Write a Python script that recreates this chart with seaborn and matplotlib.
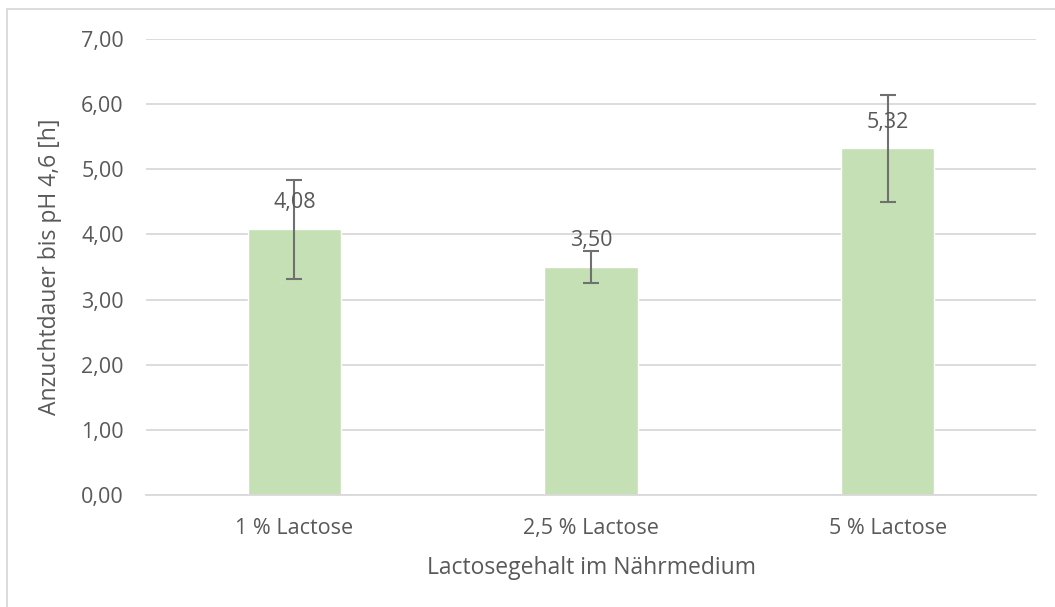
import matplotlib
matplotlib.use("Agg")
import matplotlib.pyplot as plt
from matplotlib.ticker import FuncFormatter, MultipleLocator
from matplotlib.lines import Line2D
import pandas as pd
import seaborn as sns

# values
gruppen = ['1 % Lactose', '2,5 % Lactose', '5 % Lactose']
dauer = [4.08, 3.50, 5.32]
fehler = [0.76, 0.25, 0.82]

df = pd.DataFrame({'Gruppe': gruppen, 'Dauer': dauer, 'Fehler': fehler})

sns.set_theme(style='whitegrid')
plt.rcParams['font.family'] = ['Open Sans', 'DejaVu Sans']
grau = '#595959'

fig = plt.figure(figsize=(10.55, 6.07), dpi=100)
ax = fig.add_axes([0.1384, 0.1845, 0.8436, 0.7512])

sns.barplot(data=df, x='Gruppe', y='Dauer', color='#C5E0B4', width=0.314,
            errorbar=None, saturation=1, ax=ax)
ax.errorbar(range(len(gruppen)), df['Dauer'], yerr=df['Fehler'], fmt='none',
            ecolor='#707070', elinewidth=1.5, capsize=6, capthick=1.5, zorder=3)

# data labels with decimal comma
for i, v in enumerate(dauer):
    ax.annotate(f'{v:.2f}'.replace('.', ','), (i, v), xytext=(0, 19),
                textcoords='offset points', ha='center', va='center',
                fontsize=15.5, color=grau, zorder=4)

ax.set_ylim(0, 7)
ax.set_xlim(-0.5, 2.5)
ax.yaxis.set_major_locator(MultipleLocator(1))
ax.yaxis.set_major_formatter(FuncFormatter(lambda y, p: f'{y:.2f}'.replace('.', ',')))
ax.grid(axis='y', color='#d9d9d9', linewidth=1.3)
ax.grid(axis='x', visible=False)
ax.set_axisbelow(True)
for s in ['left', 'right', 'top']:
    ax.spines[s].set_visible(False)
ax.spines['bottom'].set_color('#d9d9d9')
ax.spines['bottom'].set_linewidth(1.3)

ax.tick_params(axis='y', length=0, pad=16, labelsize=15.5, labelcolor=grau)
ax.tick_params(axis='x', length=0, pad=16.5, labelsize=15.5, labelcolor=grau)
ax.set_xlabel('Lactosegehalt im Nährmedium', fontsize=16.5, color=grau, labelpad=12)
ax.set_ylabel('Anzuchtdauer bis pH 4,6 [h]', fontsize=16.5, color=grau, labelpad=14)

# light frame on left and top like the original chart area
fig.add_artist(Line2D([0.0066, 0.0066], [0, 0.985], transform=fig.transFigure,
                      color='#d9d9d9', linewidth=1.3))
fig.add_artist(Line2D([0.0066, 1.0], [0.985, 0.985], transform=fig.transFigure,
                      color='#d9d9d9', linewidth=1.3))

fig.savefig('out.png', dpi=100)
